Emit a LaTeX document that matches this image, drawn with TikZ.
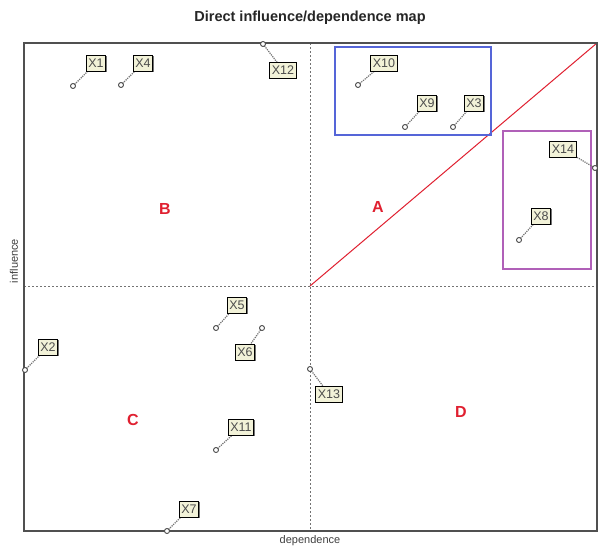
\documentclass[tikz,border=0pt]{standalone}
\usepackage{fontspec}
\setmainfont{Liberation Sans}
\usetikzlibrary{shadows}
\definecolor{framecol}{HTML}{505050}
\definecolor{lblfill}{HTML}{F2F2D8}
\definecolor{quadred}{HTML}{E02030}
\definecolor{grpblue}{HTML}{5565D8}
\definecolor{grppurple}{HTML}{B060B8}
\begin{document}
\begin{tikzpicture}[x=1pt,y=-1pt,
  pt/.style={circle,draw=black!70,fill=white,line width=0.9pt,inner sep=0pt,minimum size=5pt},
  lbl/.style={draw=black,line width=1pt,fill=lblfill,inner xsep=2pt,inner ysep=1pt,minimum height=16pt,
    font=\fontsize{12.5}{13}\selectfont,text=black!70,
    drop shadow={shadow xshift=1.3pt,shadow yshift=-1.3pt,fill=black!55,opacity=1}},
  lnk/.style={densely dotted,draw=black!55,line width=1.2pt},
  quad/.style={text=quadred,font=\bfseries\fontsize{16}{17}\selectfont},
  axislbl/.style={font=\fontsize{11}{12}\selectfont,text=black!75},
  mid/.style={dash pattern=on 2pt off 2pt,draw=black!55,line width=0.7pt}]
\useasboundingbox (0,0) rectangle (601,551);
\fill[white] (0,0) rectangle (601,551);
\node[font=\bfseries\fontsize{14.5}{16}\selectfont,text=black!85] (title) at (310,18) {Direct influence/dependence map};
% frame
\coordinate (tl) at (24,43);
\coordinate (br) at (597,531);
\coordinate (c) at (310,286);
\coordinate (tr) at (597,43);
\draw[mid] (310,43) -- (c) -- (310,531);
\draw[mid] (24,286) -- (c) -- (597,286);
\draw[draw=quadred,line width=1pt] (c) -- (tr);
\draw[draw=framecol,line width=1.5pt] (tl) rectangle (br);
% group boxes
\draw[color=grpblue,line width=1.2pt] (335,47) -- (491,47) -- (491,135) -- (335,135) -- cycle;
\draw[color=grppurple,line width=1.2pt] (503,131) -- (591,131) -- (591,269) -- (503,269) -- cycle;
% quadrant letters
\node[quad] (qA) at (378,207) {A};
\node[quad] (qB) at (165,209) {B};
\node[quad] (qC) at (133,420) {C};
\node[quad] (qD) at (461,412) {D};
% axis labels
\node[axislbl] (dep) at (310,541) {dependence};
\node[axislbl,rotate=90] (inf) at (14,261) {influence};
% points and labels
\foreach \n/\px/\py/\lx/\ly in {1/73/86/96/63, 4/121/85/143/63, 12/263/44/283/70,
  10/358/85/384/63, 9/405/127/427/103, 3/453/127/474/103, 14/595/168/563/149,
  8/519/240/541/216, 2/25/370/48/347, 5/216/328/237/305, 6/262/328/245/352,
  13/310/369/329/394, 11/216/450/241/427, 7/167/531/189/509}{
  \draw[lnk] (\px,\py) -- (\lx,\ly);
  \node[lbl] (L\n) at (\lx,\ly) {X\n};
  \node[pt] (P\n) at (\px,\py) {};
}
\end{tikzpicture}
\end{document}
